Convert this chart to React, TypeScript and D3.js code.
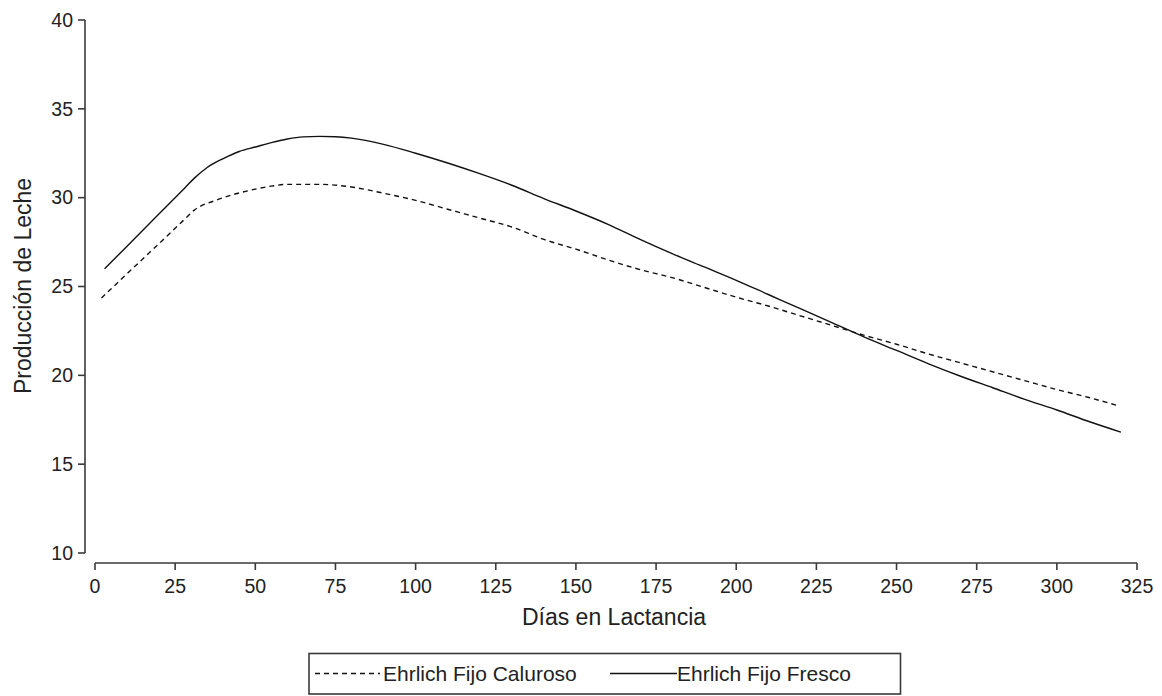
import * as d3 from "d3";

// Días en lactancia / producción de leche
const daysCaluroso = [2, 10, 20, 28, 31, 38, 48, 55, 60, 70, 80, 90, 100, 110, 120, 130, 140, 150, 160, 170, 180, 190, 200, 210, 220, 230, 240, 250, 260, 270, 280, 290, 300, 310, 319];
const lecheCaluroso = [24.35, 25.72, 27.42, 28.79, 29.3, 29.87, 30.4, 30.65, 30.75, 30.75, 30.6, 30.25, 29.85, 29.35, 28.85, 28.35, 27.65, 27.1, 26.5, 25.95, 25.5, 24.95, 24.4, 23.9, 23.35, 22.8, 22.25, 21.75, 21.2, 20.7, 20.2, 19.7, 19.2, 18.75, 18.3];

const daysFresco = [3, 10, 20, 28, 31, 35, 40, 45, 50, 55, 60, 65, 70, 75, 80, 90, 100, 110, 120, 130, 140, 150, 160, 170, 180, 190, 200, 210, 220, 230, 240, 250, 260, 270, 280, 290, 300, 310, 320];
const lecheFresco = [26.0, 27.27, 29.09, 30.55, 31.1, 31.7, 32.2, 32.6, 32.85, 33.1, 33.3, 33.42, 33.45, 33.43, 33.35, 33.0, 32.5, 31.95, 31.35, 30.7, 29.95, 29.25, 28.5, 27.65, 26.85, 26.1, 25.35, 24.55, 23.75, 22.95, 22.15, 21.4, 20.65, 19.95, 19.3, 18.65, 18.05, 17.4, 16.8];

const xTicks = [0, 25, 50, 75, 100, 125, 150, 175, 200, 225, 250, 275, 300, 325];
const yTicks = [10, 15, 20, 25, 30, 35, 40];

const seriesNames = ["Ehrlich Fijo Caluroso", "Ehrlich Fijo Fresco"];

const W = 1162;
const H = 696;
const font = "'Liberation Sans', Arial, sans-serif";
const axisColor = "#3a3a3a";

export default function App() {
  const x = d3.scaleLinear().domain([0, 325]).range([95, 1137]);
  const y = d3.scaleLinear().domain([10, 40]).range([553, 20]);

  const line = d3
    .line<[number, number]>()
    .x((d) => x(d[0]))
    .y((d) => y(d[1]))
    .curve(d3.curveMonotoneX);

  const caluroso = daysCaluroso.map((d, i) => [d, lecheCaluroso[i]] as [number, number]);
  const fresco = daysFresco.map((d, i) => [d, lecheFresco[i]] as [number, number]);

  const yAxisX = 85;
  const xAxisY = 563;

  return (
    <svg
      width={W}
      height={H}
      style={{ position: "absolute", left: 0, top: 0, background: "#fff" }}
      fontFamily={font}
    >
      {/* y axis */}
      <line x1={yAxisX} x2={yAxisX} y1={y(40)} y2={y(10)} stroke={axisColor} strokeWidth={1.6} />
      {yTicks.map((t) => (
        <g key={"y" + t}>
          <line x1={yAxisX - 7} x2={yAxisX} y1={y(t)} y2={y(t)} stroke={axisColor} strokeWidth={1.6} />
          <text x={yAxisX - 12} y={y(t)} dy="0.35em" textAnchor="end" fontSize={19.5} fill="#222">
            {t}
          </text>
        </g>
      ))}

      {/* x axis */}
      <line x1={x(0)} x2={x(325)} y1={xAxisY} y2={xAxisY} stroke={axisColor} strokeWidth={1.6} />
      {xTicks.map((t) => (
        <g key={"x" + t}>
          <line x1={x(t)} x2={x(t)} y1={xAxisY} y2={xAxisY + 7} stroke={axisColor} strokeWidth={1.6} />
          <text x={x(t)} y={593} textAnchor="middle" fontSize={19.5} fill="#222">
            {t}
          </text>
        </g>
      ))}

      {/* titles */}
      <text x={614} y={625} textAnchor="middle" fontSize={23} fill="#222">
        Días en Lactancia
      </text>
      <text
        transform="translate(31,286) rotate(-90)"
        textAnchor="middle"
        fontSize={23}
        fill="#222"
      >
        Producción de Leche
      </text>

      {/* series */}
      <path d={line(caluroso) || ""} fill="none" stroke="#111" strokeWidth={1.4} strokeDasharray="5,4" />
      <path d={line(fresco) || ""} fill="none" stroke="#111" strokeWidth={1.4} />

      {/* legend */}
      <rect x={309} y={653.5} width={591.5} height={40.5} fill="none" stroke={axisColor} strokeWidth={1.6} />
      <line x1={315} x2={380} y1={673.5} y2={673.5} stroke="#111" strokeWidth={1.4} strokeDasharray="5,4" />
      <text x={383} y={680.5} fontSize={21} fill="#222">
        {seriesNames[0]}
      </text>
      <line x1={610} x2={677} y1={673.5} y2={673.5} stroke="#111" strokeWidth={1.4} />
      <text x={677} y={680.5} fontSize={21} fill="#222">
        {seriesNames[1]}
      </text>
    </svg>
  );
}
